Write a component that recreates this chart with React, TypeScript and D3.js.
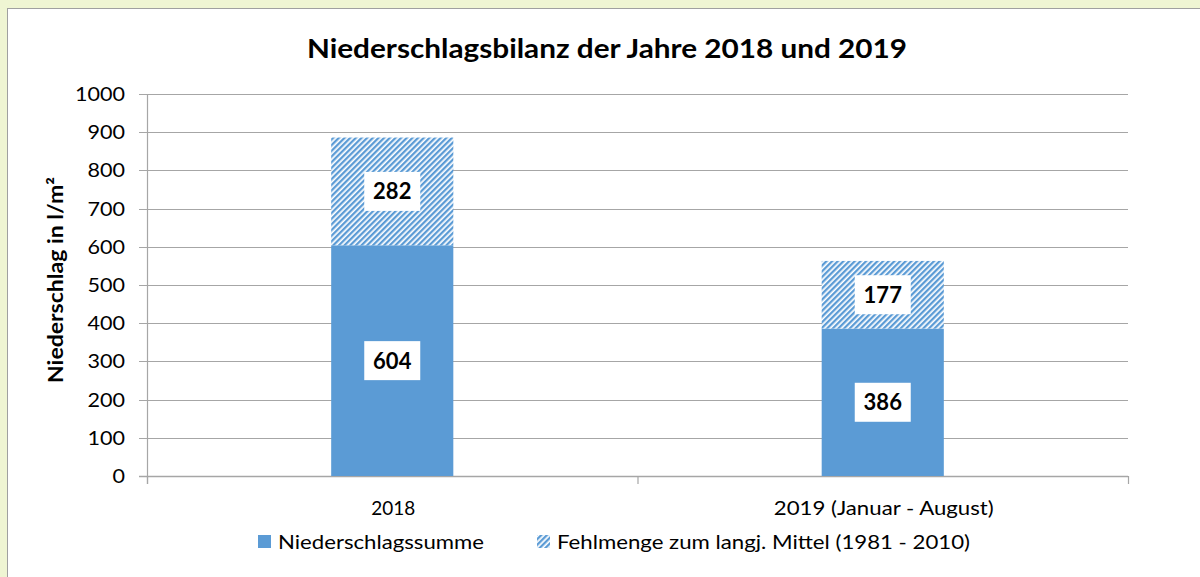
import React from "react";
import * as d3 from "d3";

const categories = ["2018", "2019 (Januar - August)"];
const niederschlag = [604, 386];
const fehlmenge = [282, 177];
const yTicks = [0, 100, 200, 300, 400, 500, 600, 700, 800, 900, 1000];
const seriesNames = ["Niederschlagssumme", "Fehlmenge zum langj. Mittel (1981 - 2010)"];

const W = 1200;
const H = 577;
const FONT = "Lato, 'Open Sans', sans-serif";
const BLUE = "#5b9bd5";

export default function App() {
  const x = d3.scaleBand<string>().domain(categories).range([147, 1128]).paddingInner(0).paddingOuter(0);
  const y = d3.scaleLinear().domain([0, 1000]).range([476, 94]);
  const barW = x.bandwidth() * 0.249;
  const catLen = [44, 220];

  return (
    <svg width={W} height={H} style={{ position: "absolute", left: 0, top: 0 }} xmlns="http://www.w3.org/2000/svg">
      <defs>
        <pattern id="hatch" width="4" height="4" patternUnits="userSpaceOnUse" patternTransform="rotate(45)">
          <rect x="0" y="0" width="4" height="4" fill="#fff" />
          <rect x="0" y="0" width="2.3" height="4" fill={BLUE} />
        </pattern>
      </defs>
      <rect x={0} y={0} width={W} height={H} fill="#eff5d3" />
      <rect x={7.5} y={8.5} width={W} height={H} fill="#fff" stroke="#a0a0a0" strokeWidth={1} />

      <text x={607} y={58} textAnchor="middle" fontFamily={FONT} fontWeight="bold" fontSize={26} fill="#000"
        textLength={600} lengthAdjust="spacingAndGlyphs">
        Niederschlagsbilanz der Jahre 2018 und 2019
      </text>

      {/* gridlines */}
      {yTicks.map((t) => (
        <g key={t}>
          <line x1={139} x2={1128} y1={Math.round(y(t)) + 0.5} y2={Math.round(y(t)) + 0.5} stroke="#a6a6a6" strokeWidth={1} />
          <text x={125} y={y(t) + 7} textAnchor="end" fontFamily={FONT} fontSize={20} fill="#000"
            textLength={String(t).length * 12.5} lengthAdjust="spacingAndGlyphs">
            {t}
          </text>
        </g>
      ))}
      {/* y axis */}
      <line x1={147.5} x2={147.5} y1={94} y2={484} stroke="#a6a6a6" strokeWidth={1.2} />
      {/* x axis */}
      <line x1={139} x2={1128} y1={476.5} y2={476.5} stroke="#a6a6a6" strokeWidth={1.5} />
      {[...categories.map((c) => x(c) as number), 1128].map((px, i) => (
        <line key={i} x1={px + 0.5} x2={px + 0.5} y1={476} y2={484} stroke="#a6a6a6" strokeWidth={1.2} />
      ))}

      {/* bars */}
      {categories.map((c, i) => {
        const cx = (x(c) as number) + x.bandwidth() / 2;
        const base = niederschlag[i];
        const top = base + fehlmenge[i];
        return (
          <g key={c}>
            <rect x={cx - barW / 2} y={y(base)} width={barW} height={y(0) - y(base)} fill={BLUE} />
            <rect x={cx - barW / 2} y={y(top)} width={barW} height={y(base) - y(top)} fill="url(#hatch)" />
            {[
              { v: base, mid: (y(0) + y(base)) / 2 },
              { v: fehlmenge[i], mid: (y(base) + y(top)) / 2 },
            ].map((l, k) => (
              <g key={k}>
                <rect x={cx - 28} y={l.mid - 19.5} width={56} height={39} fill="#fff" />
                <text x={cx} y={l.mid + 8} textAnchor="middle" fontFamily={FONT} fontWeight="bold" fontSize={22} fill="#000">
                  {l.v}
                </text>
              </g>
            ))}
            <text x={cx + 1} y={515} textAnchor="middle" fontFamily={FONT} fontSize={20} fill="#000"
              textLength={catLen[i]} lengthAdjust="spacingAndGlyphs">
              {c}
            </text>
          </g>
        );
      })}

      {/* y axis title */}
      <text
        transform={`translate(63,280) rotate(-90)`}
        textAnchor="middle"
        fontFamily={FONT}
        fontWeight="bold"
        fontSize={20}
        fill="#000"
        textLength={206}
        lengthAdjust="spacingAndGlyphs"
      >
        Niederschlag in l/m²
      </text>

      {/* legend */}
      <rect x={258} y={535} width={13} height={13} fill={BLUE} />
      <text x={278} y={549} fontFamily={FONT} fontSize={20} fill="#000" textLength={206} lengthAdjust="spacingAndGlyphs">
        {seriesNames[0]}
      </text>
      <rect x={537} y={535} width={13} height={13} fill="url(#hatch)" />
      <text x={557} y={549} fontFamily={FONT} fontSize={20} fill="#000" textLength={413} lengthAdjust="spacingAndGlyphs">
        {seriesNames[1]}
      </text>
    </svg>
  );
}
